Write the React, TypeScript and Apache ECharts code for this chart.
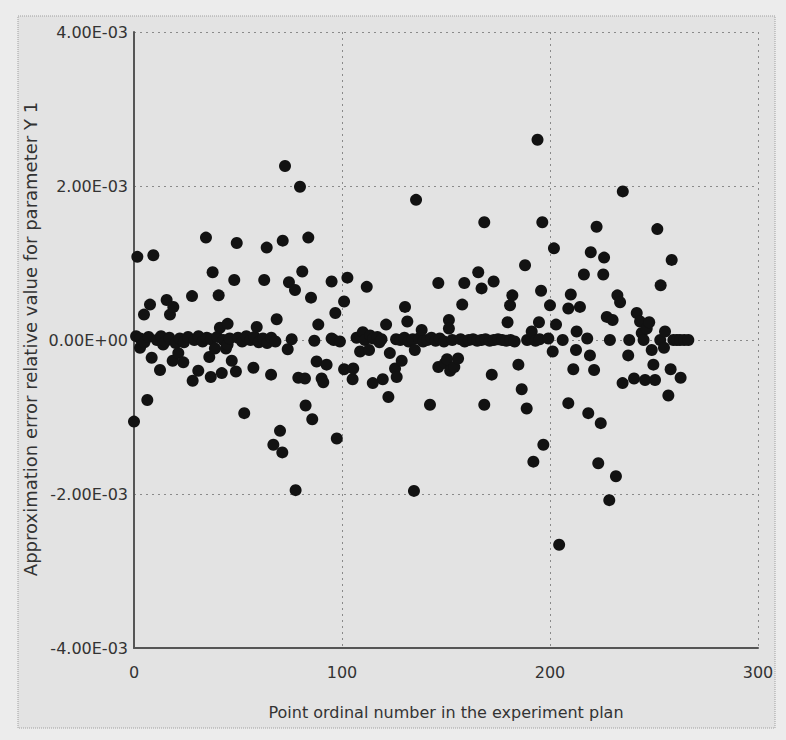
import React, { useEffect, useRef } from "react";
import * as echarts from "echarts";

// Point ordinal numbers (x) and approximation error relative values (in units of 1E-03)
const pointIndex: number[] = [
  0, 1, 1.6, 2.9, 3, 4.8, 5, 6.4, 7, 7.7, 8.5, 9.3, 11, 12.5, 13, 14, 15, 15.7, 17, 17.3,
  18.6, 18.9, 20, 21.3, 22, 23.7, 24, 26, 27.9, 28.2, 29, 30.9, 31, 33, 34.6, 35, 36.2, 36.9, 37, 37.8,
  38.9, 40, 40.7, 41.3, 42.2, 43, 44.2, 45, 45, 46, 47, 48.2, 49, 49.4, 50, 52, 53, 54, 56, 57.4,
  58, 59, 60, 62, 62.6, 63.8, 64, 65.9, 66, 67, 68, 68.6, 70.2, 71.3, 71.5, 72.6, 73.9, 74.5, 75.8, 77.4,
  77.7, 79, 79.8, 80.9, 82.2, 82.5, 83.8, 85.1, 85.7, 86.7, 87.8, 88.6, 90.2, 91, 92.6, 95, 95, 96, 96.8, 97.5,
  99, 101, 101, 102.6, 105.1, 105.4, 107, 108.7, 109, 110, 111, 111.9, 113, 113.5, 114.8, 115, 117, 118, 119, 119.6,
  121.2, 122.3, 123, 125.5, 126, 126.3, 128, 128.7, 130, 130.3, 131.4, 132, 134, 134.6, 135, 135.6, 137, 138.3, 139, 141,
  142.3, 143, 145, 146.3, 146.3, 147, 149, 149.5, 150.5, 151.4, 151.4, 152, 153, 154, 155.8, 157, 157.8, 158.8, 159, 161,
  163, 165, 165.5, 167, 167.1, 168.4, 168.4, 169, 171, 172, 172.9, 173, 175, 177, 179, 179.6, 180.8, 181, 181.9, 183,
  184.8, 186.4, 188, 188.8, 189, 191, 191.2, 192, 193, 194, 194.7, 195, 195.7, 196.3, 196.8, 199.2, 200, 201.3, 201.9, 202.9,
  204.4, 206.1, 208.8, 208.8, 210, 211.2, 212.5, 212.8, 214.4, 216.3, 217.9, 218.4, 219.2, 219.6, 221.2, 222.4, 223.2, 224.4, 225.6, 226,
  227.3, 228.5, 228.8, 230.1, 231.7, 232.4, 233.7, 234.9, 235, 237.6, 238.1, 240.4, 241.7, 243.3, 244.1, 245, 245.7, 246.5, 247.7, 248.9,
  249.7, 250.5, 251.6, 253, 253.2, 254.8, 255.3, 256.9, 258, 258.5, 259.3, 261, 262.5, 262.8, 264.5, 266.5,
];

const errorE3: number[] = [
  -1.06, 0.05, 1.08, -0.1, 0.02, 0.33, -0.03, -0.78, 0.04, 0.46, -0.23, 1.1, 0.0, -0.39, 0.05, -0.06, -0.02, 0.52, 0.03, 0.33,
  -0.27, 0.43, -0.04, -0.17, 0.02, -0.29, -0.03, 0.04, 0.57, -0.53, 0.0, -0.4, 0.05, -0.02, 1.33, 0.03, -0.22, -0.48, 0.01, 0.88,
  -0.11, 0.04, 0.58, 0.16, -0.43, 0.0, -0.11, 0.21, -0.06, 0.02, -0.27, 0.78, -0.41, 1.26, 0.03, -0.02, -0.95, 0.05, 0.0, -0.36,
  0.04, 0.17, -0.03, 0.02, 0.78, 1.2, -0.04, -0.45, 0.03, -1.36, -0.02, 0.27, -1.18, -1.46, 1.29, 2.26, -0.12, 0.75, 0.01, 0.65,
  -1.95, -0.49, 1.99, 0.89, -0.5, -0.85, 1.33, 0.55, -1.03, -0.01, -0.28, 0.2, -0.5, -0.55, -0.32, 0.76, 0.02, 0.0, 0.35, -1.28,
  -0.02, 0.5, -0.38, 0.81, -0.51, -0.37, 0.03, -0.15, 0.05, 0.1, 0.0, 0.69, -0.13, 0.06, -0.56, 0.02, 0.04, -0.03, 0.01, -0.51,
  0.2, -0.74, -0.17, -0.37, 0.01, -0.48, 0.0, -0.27, 0.03, 0.43, 0.24, -0.02, 0.01, -1.96, -0.13, 1.82, 0.02, 0.13, -0.02, 0.0,
  -0.84, 0.03, -0.01, 0.74, -0.35, 0.02, -0.02, -0.3, -0.25, 0.26, 0.15, -0.4, 0.0, -0.35, -0.24, 0.01, 0.46, 0.74, -0.02, 0.0,
  0.01, -0.01, 0.88, 0.0, 0.67, 1.53, -0.84, 0.01, -0.01, -0.45, 0.76, 0.0, 0.01, 0.0, -0.01, 0.23, 0.45, 0.0, 0.58, -0.02,
  -0.32, -0.64, 0.97, -0.89, 0.0, 0.02, 0.11, -1.58, -0.01, 2.6, 0.23, 0.01, 0.64, 1.53, -1.36, 0.02, 0.45, -0.15, 1.19, 0.2,
  -2.66, 0.0, 0.41, -0.82, 0.59, -0.38, -0.13, 0.11, 0.43, 0.85, 0.02, -0.95, -0.2, 1.14, -0.39, 1.47, -1.6, -1.08, 0.85, 1.07,
  0.3, -2.08, 0.0, 0.26, -1.77, 0.58, 0.49, -0.56, 1.93, -0.2, 0.0, -0.5, 0.35, 0.24, 0.09, 0.0, -0.52, 0.15, 0.23, -0.13,
  -0.32, -0.52, 1.44, 0.0, 0.71, -0.1, 0.11, -0.72, -0.38, 1.04, 0.0, 0.0, 0.0, -0.49, 0.0, 0.0,
];

const xTicks = { min: 0, max: 300, interval: 100 };
const yTicksE3 = { min: -4, max: 4, interval: 2 };

const xAxisName = "Point ordinal number in the experiment plan";
const yAxisName = "Approximation error relative value for parameter Y 1";

function sciLabel(vE3: number): string {
  const v = vE3 * 1e-3;
  if (Math.abs(v) < 1e-12) return "0.00E+00";
  const [m, e] = v.toExponential(2).split("e");
  const ev = parseInt(e, 10);
  const sign = ev < 0 ? "-" : "+";
  const abs = Math.abs(ev).toString().padStart(2, "0");
  return `${m}E${sign}${abs}`;
}

export default function App() {
  const ref = useRef<HTMLDivElement>(null);
  useEffect(() => {
    if (!ref.current) return;
    const chart = echarts.init(ref.current, undefined, { renderer: "svg" });
    const font = "DejaVu Sans";
    const data = pointIndex.map((x, i) => [x, errorE3[i]]);
    chart.setOption({
      animation: false,
      backgroundColor: "#ececec",
      graphic: [
        {
          type: "rect",
          z: -10,
          silent: true,
          shape: { x: 18, y: 16, width: 757, height: 712 },
          style: { fill: "#e3e3e3", stroke: "#a0a0a0", lineWidth: 1, lineDash: [1, 1] },
        },
        {
          type: "text",
          silent: true,
          x: 30,
          y: 339,
          rotation: Math.PI / 2,
          style: {
            text: yAxisName,
            fontFamily: font,
            fontSize: 18,
            fill: "#333",
            align: "center",
            verticalAlign: "middle",
          },
        },
      ],
      grid: { left: 134, top: 32, width: 624, height: 616, containLabel: false },
      xAxis: {
        type: "value",
        min: xTicks.min,
        max: xTicks.max,
        interval: xTicks.interval,
        name: xAxisName,
        nameLocation: "middle",
        nameGap: 56,
        nameTextStyle: { fontFamily: font, fontSize: 16, color: "#333" },
        axisLine: { show: true, onZero: false, lineStyle: { color: "#555", width: 2 } },
        axisTick: { show: false },
        axisLabel: { fontFamily: font, fontSize: 16, color: "#333", margin: 16 },
        splitLine: { show: true, lineStyle: { color: "#8a8a8a", type: [2, 4], width: 1 } },
      },
      yAxis: {
        type: "value",
        min: yTicksE3.min,
        max: yTicksE3.max,
        interval: yTicksE3.interval,
        axisLine: { show: true, onZero: false, lineStyle: { color: "#555", width: 2 } },
        axisTick: { show: false },
        axisLabel: { fontFamily: font, fontSize: 16, color: "#333", margin: 6, formatter: sciLabel },
        splitLine: { show: true, lineStyle: { color: "#8a8a8a", type: [2, 4], width: 1 } },
      },
      series: [
        {
          type: "scatter",
          data,
          symbol: "circle",
          symbolSize: 12,
          itemStyle: { color: "#121212", opacity: 1 },
        },
      ],
    });
    return () => chart.dispose();
  }, []);
  return (
    <div
      ref={ref}
      style={{ position: "absolute", left: 0, top: 0, width: 786, height: 740 }}
    />
  );
}
